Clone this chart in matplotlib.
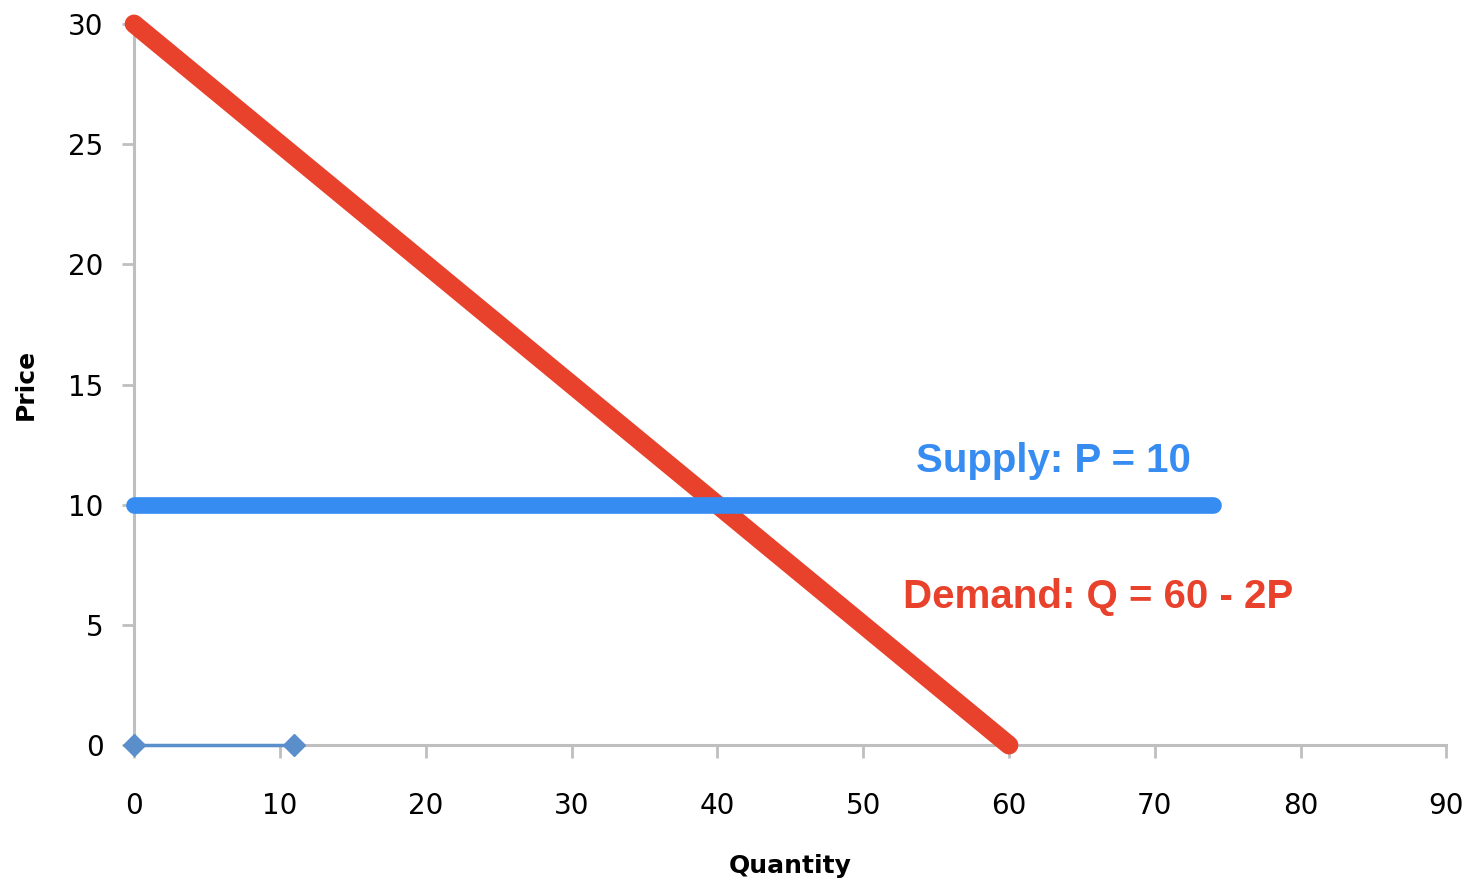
import matplotlib
matplotlib.use("Agg")
import matplotlib.pyplot as plt

# demanda: Q = 60 - 2P
demanda_q = [0, 60]
demanda_p = [30, 0]

# oferta: P = 10
oferta_q = [0, 74]
oferta_p = [10, 10]

# série pequena com marcadores
serie_q = [0, 11]
serie_p = [0, 0]

x_ticks = [0, 10, 20, 30, 40, 50, 60, 70, 80, 90]
y_ticks = [0, 5, 10, 15, 20, 25, 30]

vermelho = "#e8412c"
azul = "#378cf2"
cinza = "#bfbfbf"

fig = plt.figure(figsize=(14.73, 8.86), dpi=100)
ax = fig.add_axes([0.091, 0.159, 0.891, 0.814])

ax.plot(serie_q, serie_p, color="#5b8fcb", lw=2.5, marker="D", markersize=11,
        clip_on=False, zorder=3)
ax.plot(demanda_q, demanda_p, color=vermelho, lw=13.5, solid_capstyle="round",
        clip_on=False, zorder=4)
ax.plot(oferta_q, oferta_p, color=azul, lw=12, solid_capstyle="round",
        clip_on=False, zorder=5)

ax.text(53.6, 11.35, "Supply: P = 10", color=azul, fontsize=29,
        fontweight="bold", family="Liberation Sans")
ax.text(52.7, 5.72, "Demand: Q = 60 - 2P", color=vermelho, fontsize=29,
        fontweight="bold", family="Liberation Sans")

ax.set_xlim(0, 90)
ax.set_ylim(0, 30)
ax.set_xticks(x_ticks)
ax.set_yticks(y_ticks)
ax.tick_params(axis="both", colors=cinza, labelcolor="black", labelsize=20,
               length=9, width=2, direction="out")
ax.tick_params(axis="x", pad=25)
ax.tick_params(axis="y", pad=13)

for lado in ["top", "right"]:
    ax.spines[lado].set_visible(False)
for lado in ["left", "bottom"]:
    ax.spines[lado].set_color(cinza)
    ax.spines[lado].set_linewidth(2.2)

ax.set_xlabel("Quantity", fontsize=18, fontweight="bold", labelpad=24)
ax.set_ylabel("Price", fontsize=18, fontweight="bold", labelpad=22)

fig.savefig("out.png", dpi=100)
